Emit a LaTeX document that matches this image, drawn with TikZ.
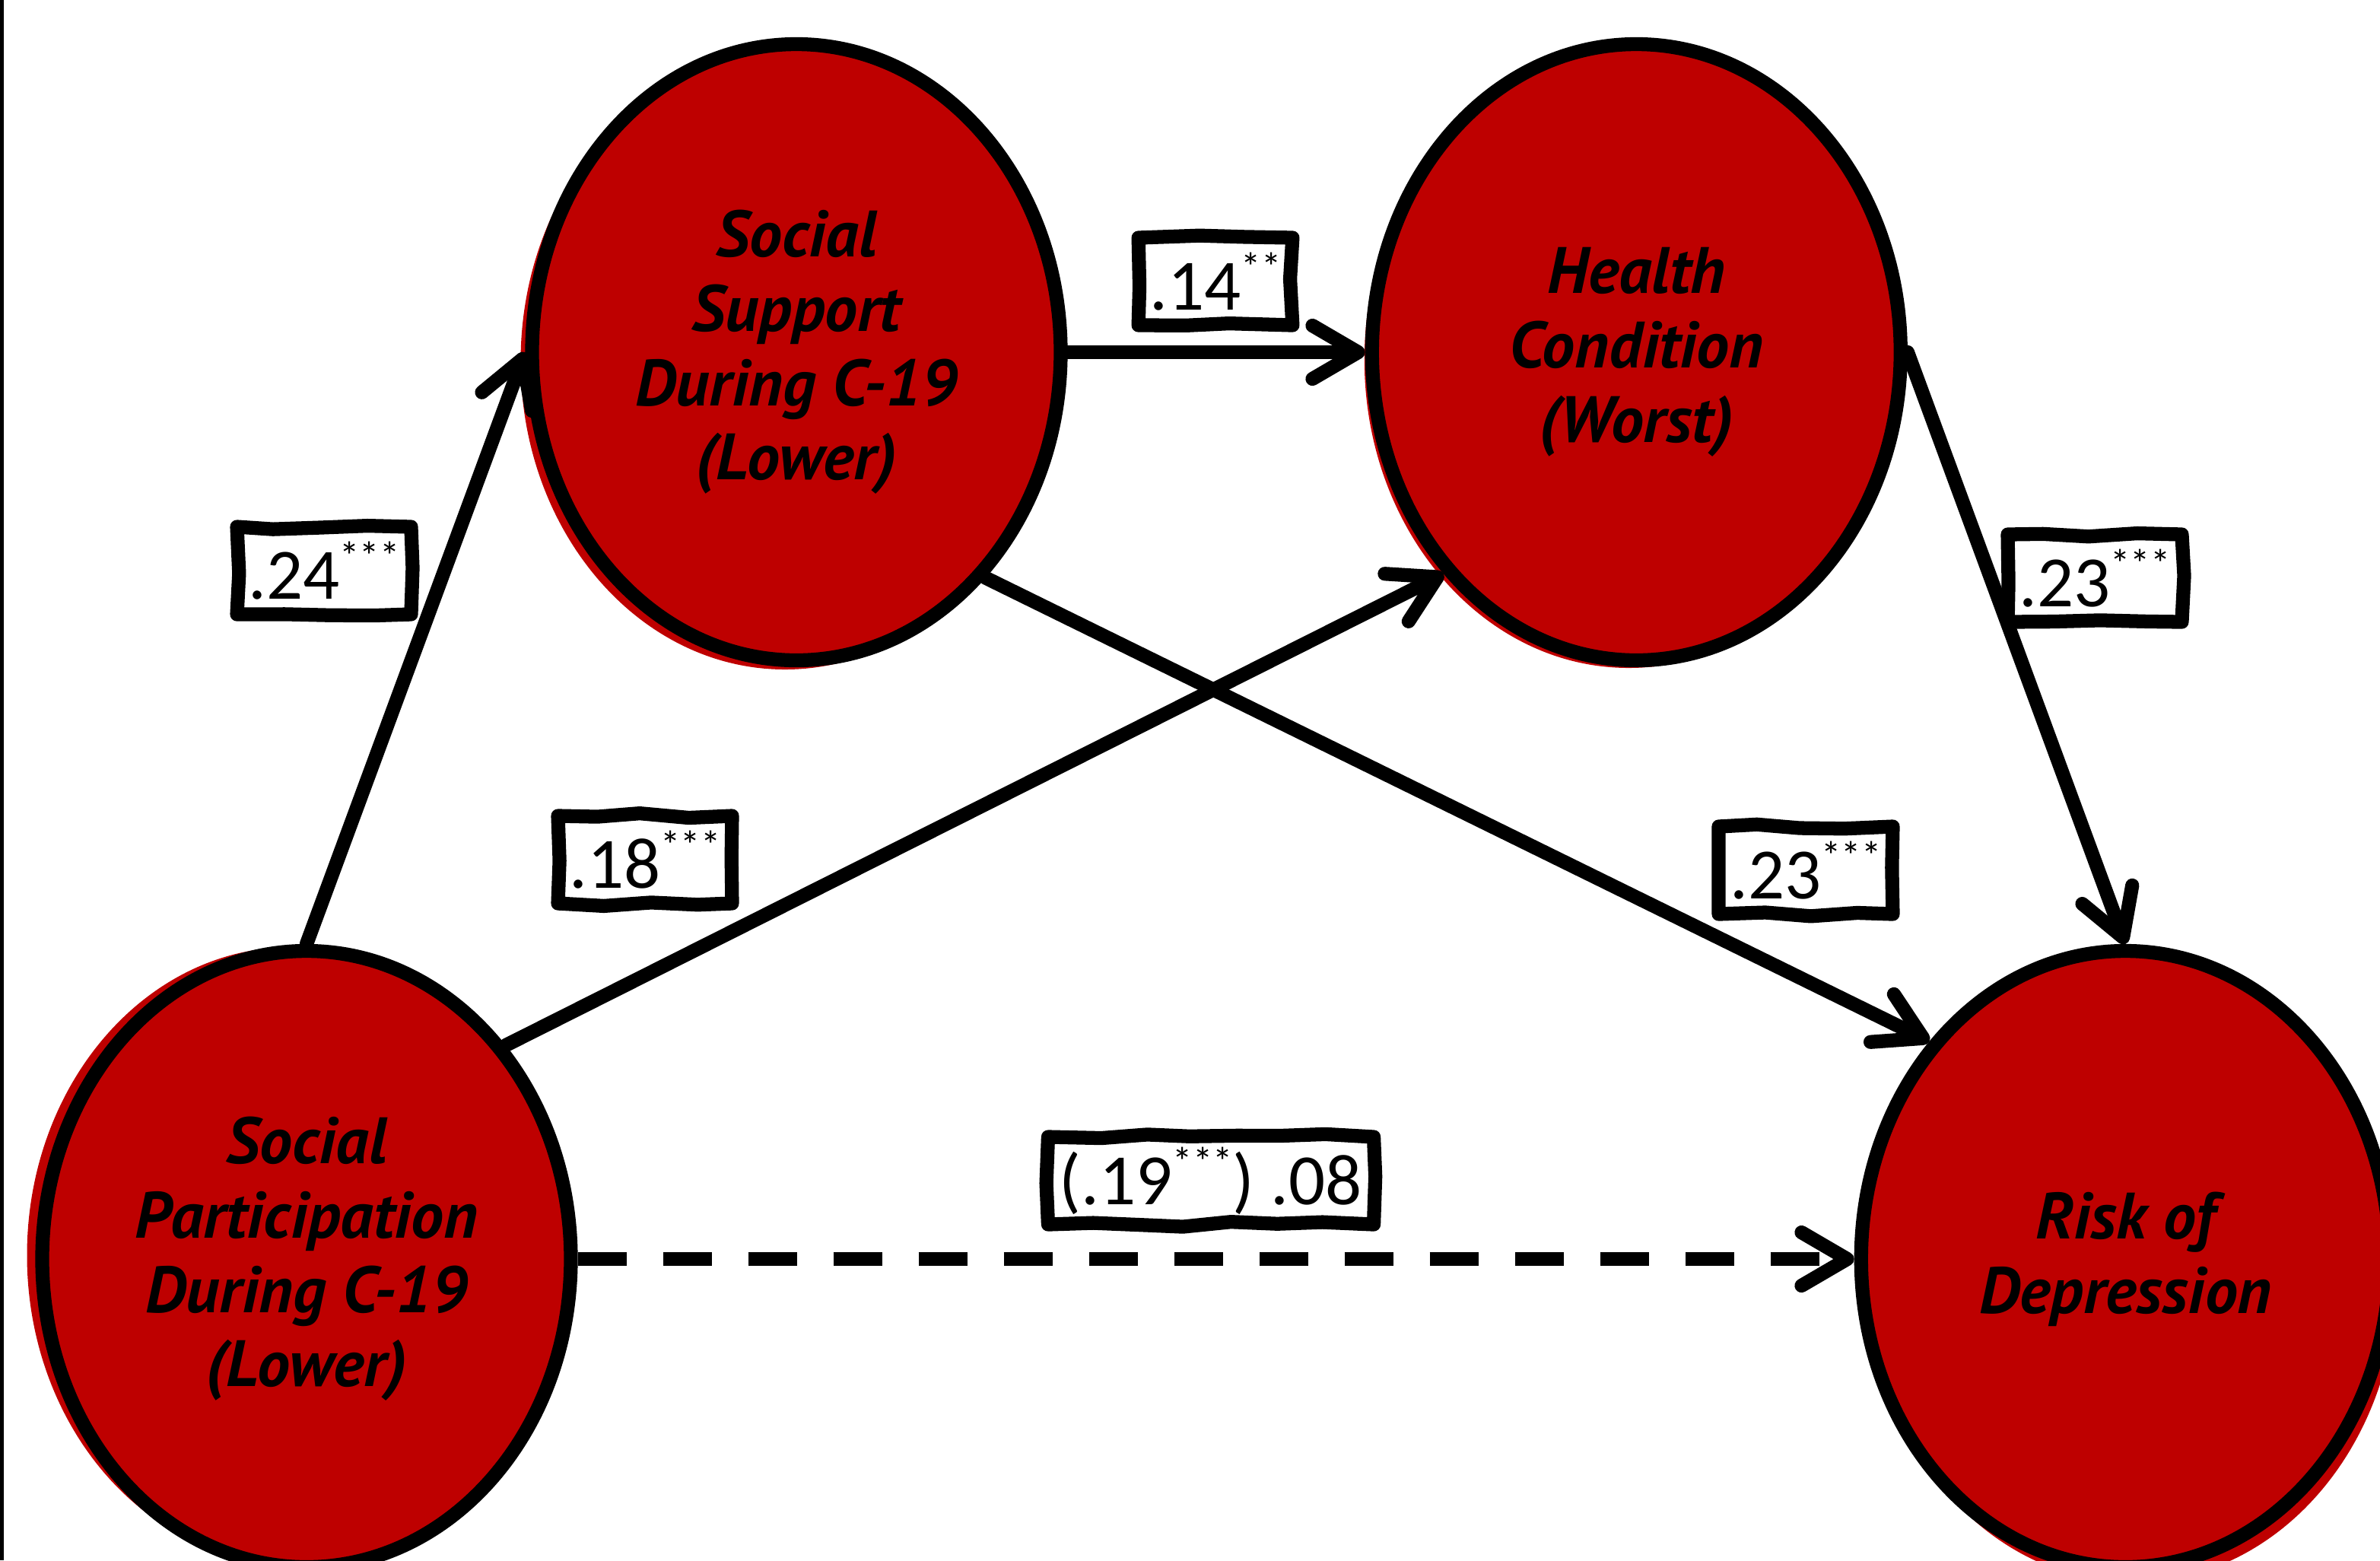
\documentclass[tikz,border=0pt]{standalone}
\usepackage{fontspec}
\setmainfont{Carlito}
\newfontfamily\lvfont{PT Sans}
\usetikzlibrary{positioning,arrows.meta,shapes.geometric,shadows,decorations.pathmorphing}
\definecolor{lvred}{RGB}{190,0,0}
\newcommand{\stars}[1]{\raisebox{0.4em}{\fontsize{15}{15}\selectfont #1}}
\tikzstyle{latent}=[ellipse, draw=black, line width=5.2pt, fill=lvred, minimum width=6.95cm,
minimum height=8.1cm, inner sep=0pt, align=center, font=\lvfont\bfseries\itshape\fontsize{24.5}{27.8}\selectfont]
\tikzstyle{coef}=[rectangle, draw=black, line width=5.2pt, fill=white, line join=round,
minimum height=1.15cm, inner xsep=0.15cm, font=\fontsize{27}{30}\selectfont,
decorate, decoration={random steps, segment length=6mm, amplitude=0.4mm}]
\tikzstyle{effect}=[-{Straight Barb[length=6mm, width=7mm, round]}, line width=5.2pt, line cap=round]
\tikzstyle{deffect}=[effect, line cap=butt, dash pattern=on 6.4mm off 4.8mm]

\begin{document}
\begin{tikzpicture}
\pgfmathsetseed{11}
\useasboundingbox (0,0) rectangle (31.29,-20.51);
\fill[black] (0,0) rectangle (0.05,-20.51);

    \node (ss) [latent, general shadow={fill=lvred, shadow xshift=-1.5mm, shadow yshift=-1.2mm}] at (10.47,-4.63) {Social\\Support\\During C-19\\(Lower)};
    \node (hc) [latent, right=3.91cm of ss, general shadow={fill=lvred, shadow xshift=-1mm, shadow yshift=-1mm}] {Health\\Condition\\(Worst)};
    \node (sp) [latent, general shadow={fill=lvred, shadow xshift=-2mm, shadow yshift=0.5mm}] at (4.03,-16.55) {Social\\Participation\\During C-19\\(Lower)};
    \node (rd) [latent, right=16.78cm of sp, general shadow={fill=lvred, shadow xshift=1mm, shadow yshift=-2mm}] {Risk of\\Depression};

%paths
   \draw[effect] (sp.north) -- (ss.west);
   \draw[effect] (ss.east) -- (hc.west);
   \draw[effect] (sp.47) -- (hc.229);
   \draw[effect] (ss.310) -- (rd.132);
   \draw[effect] (hc.east) -- (rd.north);
   \draw[deffect] (sp.east) -- (rd.west);

%coefficients
	\node (c24) [coef] at (4.26,-7.50) {.24\stars{***}};
	\node (c14) [coef] at (15.98,-3.70) {.14\stars{**}};
	\node (c18) [coef] at (8.48,-11.30) {.18\stars{***}};
	\node (c23a) [coef] at (27.54,-7.60) {.23\stars{***}};
	\node (c23b) [coef] at (23.74,-11.44) {.23\stars{***}};
	\node (c08) [coef] at (15.92,-15.52) {(.19\stars{***}) .08};

\end{tikzpicture}
\end{document}
